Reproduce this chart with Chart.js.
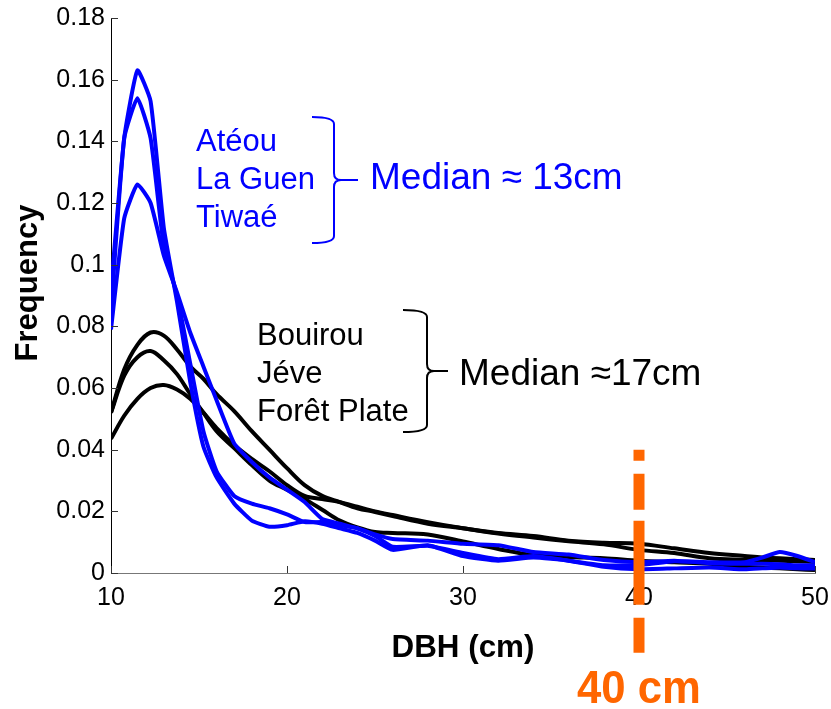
<!DOCTYPE html>
<html>
<head>
<meta charset="utf-8">
<script src="https://cdn.jsdelivr.net/npm/chart.js@4"></script>
<style>
  html, body { margin: 0; padding: 0; background: #fff; }
  #wrap { width: 831px; height: 709px; }
</style>
</head>
<body>
<div id="wrap"><canvas id="dbhChart" width="831" height="709"></canvas></div>
<script>
// DBH classes (cm)
const dbh = [10, 10.75, 11.5, 12.25, 13, 13.75, 14.5, 15.25, 16, 17, 18, 19, 20, 21, 22, 23, 24, 25, 26, 28, 30, 32, 34, 36, 38, 40, 42, 44, 46, 47, 48, 49, 50];

// blue sites (Atéou, La Guen, Tiwaé)
const blueA = [.092, .141, .163, .153, .112, .088, .062, .041, .031, .0225, .017, .015, .0155, .0168, .016, .0145, .013, .0105, .0075, .009, .0055, .004, .005, .004, .002, .0012, .0015, .0018, .0012, .0015, .0018, .0015, .0015];
const blueB = [.085, .141, .154, .141, .106, .09, .068, .046, .033, .025, .0225, .021, .019, .0165, .0165, .0155, .0145, .0125, .011, .0105, .0095, .009, .0068, .006, .0042, .0035, .004, .0032, .003, .003, .0028, .0025, .0025];
const blueC = [.079, .115, .126, .12, .103, .091, .078, .067, .056, .042, .036, .031, .027, .023, .0175, .016, .0145, .012, .0085, .0088, .0065, .0045, .0055, .004, .0025, .0025, .0038, .0035, .0035, .005, .0068, .0055, .0035];

// black sites (Bouirou, Jéve, Forêt Plate)
const blackA = [.052, .066, .074, .078, .077, .0725, .067, .063, .058, .0525, .046, .04, .034, .0285, .025, .023, .021, .0198, .0185, .016, .0145, .013, .012, .0105, .0098, .0095, .008, .0065, .0055, .005, .0048, .0045, .0042];
const blackB = [.052, .064, .07, .072, .069, .0645, .058, .052, .046, .0405, .035, .03, .027, .024, .0205, .017, .0148, .0133, .013, .0125, .0102, .0078, .0058, .0052, .0048, .004, .0035, .003, .002, .0018, .0015, .0012, .001];
const blackC = [.0435, .051, .0565, .06, .061, .0595, .0565, .052, .047, .0415, .037, .033, .0285, .025, .024, .023, .0215, .02, .0188, .0165, .0145, .0128, .0115, .0103, .0093, .0075, .0065, .0048, .0043, .0042, .004, .0038, .0036];

const xTicks = [10, 20, 30, 40, 50];
const yTicks = [0, 0.02, 0.04, 0.06, 0.08, 0.1, 0.12, 0.14, 0.16, 0.18];
const cutoff = 40;

const blue = '#0000ff';
const black = '#000000';
const orange = '#ff6600';
const FONT = '"Liberation Sans", Arial, sans-serif';

function pts(ys) { return dbh.map((x, i) => ({ x: x, y: ys[i] })); }
function line(ys, color, tension) {
  return { data: pts(ys), borderColor: color, borderWidth: 4, pointRadius: 0, tension: tension, fill: false };
}

// inward tick marks, matlab style
const innerTicks = {
  id: 'innerTicks',
  afterDatasetsDraw(chart) {
    const c = chart.ctx, x = chart.scales.x, y = chart.scales.y;
    c.save();
    c.strokeStyle = '#333';
    c.lineWidth = 1;
    yTicks.forEach(v => {
      const py = Math.round(y.getPixelForValue(v)) + 0.5;
      c.beginPath(); c.moveTo(x.left, py); c.lineTo(x.left + 7, py); c.stroke();
    });
    xTicks.forEach(v => {
      const px = Math.round(x.getPixelForValue(v)) + 0.5;
      c.beginPath(); c.moveTo(px, y.bottom); c.lineTo(px, y.bottom - 7); c.stroke();
    });
    c.restore();
  }
};

function brace(c, x0, xv, top, bottom, tip, color) {
  const mid = (top + bottom) / 2, r = 7;
  c.strokeStyle = color;
  c.lineWidth = 2;
  c.beginPath();
  c.moveTo(x0, top);
  c.quadraticCurveTo(xv, top, xv, top + r);
  c.lineTo(xv, mid - r);
  c.quadraticCurveTo(xv, mid, xv + r, mid);
  c.lineTo(tip, mid);
  c.moveTo(xv + r, mid);
  c.quadraticCurveTo(xv, mid, xv, mid + r);
  c.lineTo(xv, bottom - r);
  c.quadraticCurveTo(xv, bottom, x0, bottom);
  c.stroke();
}

function narrowText(c, txt, x, y, sx) {
  c.save();
  c.translate(x, y);
  c.scale(sx, 1);
  c.fillText(txt, 0, 0);
  c.restore();
}

const annotations = {
  id: 'annotations',
  afterDraw(chart) {
    const c = chart.ctx, x = chart.scales.x, y = chart.scales.y;
    c.save();
    c.textBaseline = 'middle';

    // blue group
    c.fillStyle = blue;
    c.font = '31px ' + FONT;
    c.textAlign = 'left';
    ['Atéou', 'La Guen', 'Tiwaé'].forEach((t, i) => c.fillText(t, 196, 142 + i * 38));
    brace(c, 312, 334, 117, 243, 358, blue);
    c.font = '37px ' + FONT;
    c.fillText('Median \u2248 13cm', 370, 179);

    // black group
    c.fillStyle = black;
    c.font = '31px ' + FONT;
    ['Bouirou', 'Jéve', 'Forêt Plate'].forEach((t, i) => c.fillText(t, 257, 336 + i * 38));
    brace(c, 403, 427, 310, 432, 448, black);
    c.font = '37px ' + FONT;
    c.fillText('Median \u224817cm', 459, 375);

    // axis titles
    c.font = 'bold 32px ' + FONT;
    c.textAlign = 'center';
    narrowText(c, 'DBH (cm)', (x.left + x.right) / 2, 648, 0.98);
    c.save();
    c.translate(28, 283);
    c.rotate(-Math.PI / 2);
    c.font = 'bold 31px ' + FONT;
    c.fillText('Frequency', 0, 0);
    c.restore();

    // 40 cm cutoff
    const px = x.getPixelForValue(cutoff);
    c.strokeStyle = orange;
    c.lineWidth = 11;
    c.lineCap = 'butt';
    c.setLineDash([11, 13, 36, 11, 84, 13, 35, 200]);
    c.beginPath();
    c.moveTo(px, y.getPixelForValue(0.04));
    c.lineTo(px, y.bottom + 82);
    c.stroke();
    c.setLineDash([]);
    c.fillStyle = orange;
    c.font = 'bold 46px ' + FONT;
    narrowText(c, '40 cm', px, 690, 0.95);
    c.restore();
  }
};

const ctx = document.getElementById('dbhChart').getContext('2d');
const chart = new Chart(ctx, {
  type: 'line',
  data: {
    datasets: [
      line(blueA, blue, 0.15),
      line(blueB, blue, 0.15),
      line(blueC, blue, 0.15),
      line(blackA, black, 0.35),
      line(blackB, black, 0.35),
      line(blackC, black, 0.35)
    ]
  },
  options: {
    responsive: false,
    animation: false,
    layout: { padding: { top: 18, right: 16, left: 0, bottom: 0 } },
    plugins: { legend: { display: false }, tooltip: { enabled: false } },
    scales: {
      x: {
        type: 'linear', min: 10, max: 50,
        afterFit: s => { s.height = 136; s.paddingRight = 0; s.paddingLeft = 0; },
        afterBuildTicks: s => { s.ticks = xTicks.map(v => ({ value: v })); },
        grid: { display: false, drawTicks: false },
        border: { display: true, color: '#777', width: 1 },
        ticks: { color: '#000', padding: 10, font: { family: FONT, size: 25 } }
      },
      y: {
        min: 0, max: 0.18,
        afterFit: s => { s.width = 111; s.paddingTop = 0; s.paddingBottom = 0; },
        afterBuildTicks: s => { s.ticks = yTicks.map(v => ({ value: v })); },
        grid: { display: false, drawTicks: false },
        border: { display: true, color: '#000', width: 1 },
        ticks: {
          color: '#000', padding: 6, font: { family: FONT, size: 25 },
          callback: v => String(Number(v.toFixed(2)))
        }
      }
    }
  },
  plugins: [innerTicks, annotations]
});
</script>
</body>
</html>
